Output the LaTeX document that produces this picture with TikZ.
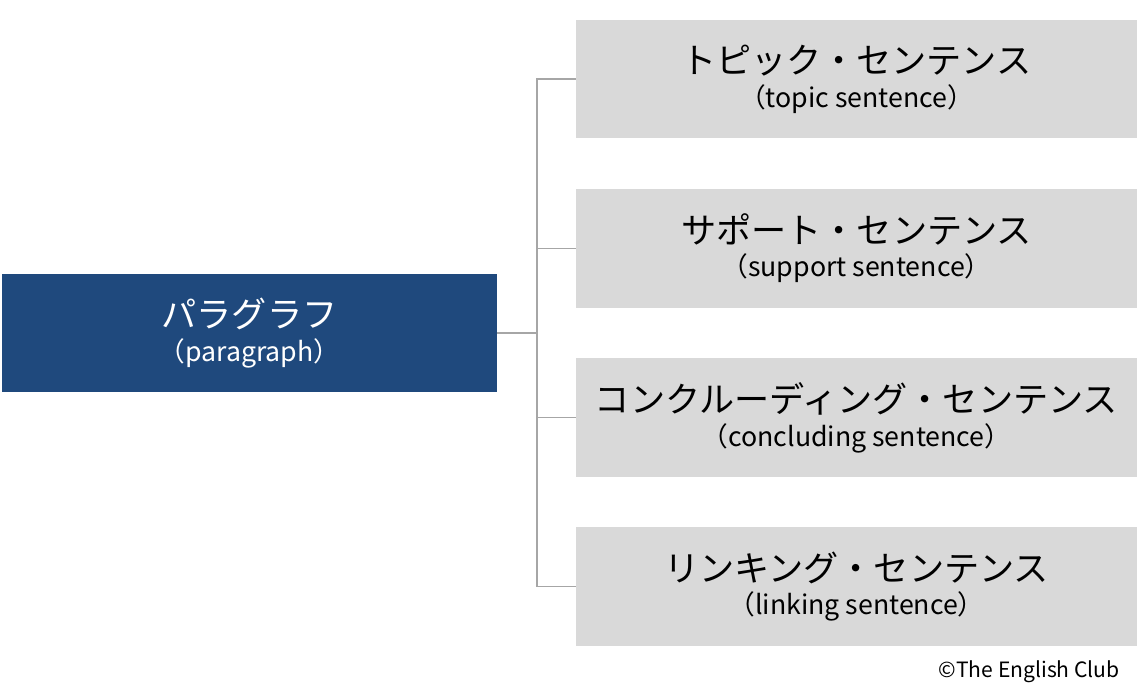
\documentclass[tikz,border=0pt]{standalone}
\usepackage{fontspec}
\setmainfont{Noto Sans CJK JP}
\newfontfamily\jp{Noto Sans CJK JP}
\usetikzlibrary{positioning}

\begin{document}
\begin{tikzpicture}[x=0.025cm,y=-0.025cm,
  mainbox/.style={fill={rgb,255:red,31;green,73;blue,125},text=white,minimum width=12.375cm,minimum height=2.95cm,align=center,inner sep=0pt},
  subbox/.style={fill={rgb,255:red,217;green,217;blue,217},minimum width=14.025cm,minimum height=2.95cm,align=center,inner sep=0pt},
  branch/.style={draw={rgb,255:red,166;green,166;blue,166},line width=0.8pt}]
  \useasboundingbox (0,0) rectangle (1138,692);
  \newcommand{\boxtext}[2]{\fontsize{25}{28}\selectfont #1\\[5pt]{\fontsize{19}{28}\selectfont （#2）}}

  \node[mainbox] (para) at (249.5,333) {\boxtext{パラグラフ}{paragraph}};

  \node[subbox] (topic) at (856.5,79) {\boxtext{トピック・センテンス}{topic sentence}};
  \node[subbox] (support) at (856.5,248.5) {\boxtext{サポート・センテンス}{support sentence}};
  \node[subbox] (concl) at (856.5,417.5) {\boxtext{コンクルーディング・センテンス}{concluding sentence}};
  \node[subbox] (link) at (856.5,586.5) {\boxtext{リンキング・センテンス}{linking sentence}};

  \coordinate (hub) at (537,333);
  \draw[branch] (para.east) -- (hub);
  \foreach \n in {topic,support,concl,link}
    \draw[branch] (hub) |- (\n.west);

  \node[anchor=east,inner sep=0pt] (club) at (1120,672) {\fontsize{15}{18}\selectfont ©The English Club};
\end{tikzpicture}
\end{document}
